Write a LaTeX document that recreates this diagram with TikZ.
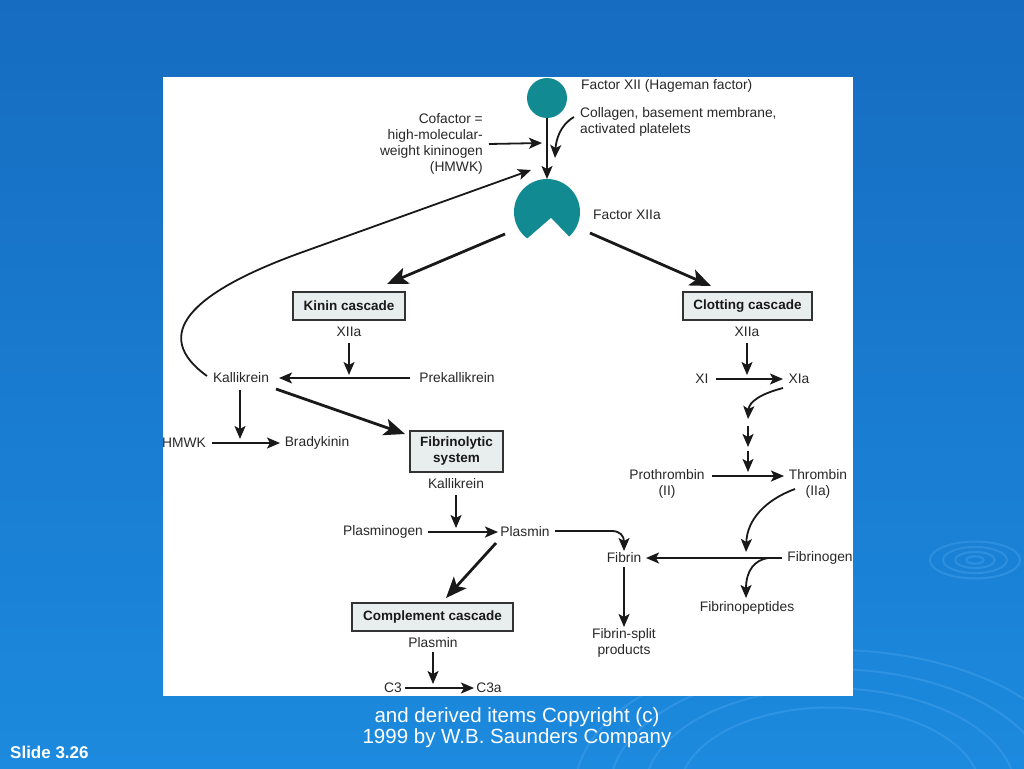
\documentclass[tikz,border=0pt]{standalone}
\usepackage{fontspec}
\setmainfont{Liberation Sans}
\usetikzlibrary{arrows.meta}
\definecolor{tealc}{RGB}{18,138,146}
\definecolor{boxfill}{RGB}{232,238,238}
\definecolor{txt}{RGB}{40,40,40}
\definecolor{bgtop}{RGB}{22,108,192}
\definecolor{bgbot}{RGB}{28,138,222}
\definecolor{ripple}{RGB}{90,175,240}
\tikzset{
 lbl/.style={font=\fontsize{13.8}{15.8}\selectfont, inner sep=1pt, text=txt},
 boxn/.style={draw=black!80, line width=1.6pt, fill=boxfill, text=black!90,
   font=\bfseries\fontsize{13.5}{16}\selectfont, inner sep=0pt, align=center},
 arr/.style={-{Stealth[length=13pt,width=11pt,inset=3pt]}, line width=1.8pt, draw=black!90},
 bigarr/.style={-{Stealth[length=21pt,width=17pt,inset=5pt]}, line width=2.8pt, draw=black!90},
 foot/.style={text=white, font=\fontsize{20.5}{22}\selectfont, inner sep=0pt},
}
\begin{document}
\begin{tikzpicture}[x=1pt,y=-1pt]
\useasboundingbox (0,0) rectangle (1024,768);
% background
\shade[top color=bgtop, bottom color=bgbot] (0,0) rectangle (1024,768);
% ripples
\begin{scope}[draw=ripple, opacity=0.3, line width=2pt]
  \foreach \r in {8,18,29,41} {\draw (975,560) ellipse ({\r*1.1} and {\r*0.45});}
  \foreach \r in {150,185,220,255} {\draw (830,790) ellipse ({\r} and {\r*0.55});}
\end{scope}
% footer
\node[foot] (ft1) at (517,717) {and derived items Copyright (c)};
\node[foot] (ft2) at (517,738) {1999 by W.B. Saunders Company};
\node[text=white, font=\bfseries\fontsize{17}{19}\selectfont, anchor=west, inner sep=0pt] (slide) at (10,752) {Slide 3.26};
% white panel
\fill[white] (163,77) rectangle (853,696);

% Factor XII
\node[circle, fill=tealc, minimum size=40pt, inner sep=0pt] (f12) at (547,98) {};
\node[lbl, anchor=west] (f12t) at (580,86) {Factor XII (Hageman factor)};
\node[lbl, anchor=north west, align=left] (coll) at (579,106) {Collagen, basement membrane,\\activated platelets};
\node[lbl, anchor=east, align=right] (cof) at (484,144) {Cofactor =\\high-molecular-\\weight kininogen\\(HMWK)};

% Factor XIIa (notched)
\node[circle, minimum size=66pt, inner sep=0pt] (f12a) at (547,212) {};
\fill[tealc] (f12a.center) circle (33);
\fill[white] (551,218) -- (513,251) -- (583,251) -- cycle;
\node[lbl, anchor=west] (f12at) at (592,215) {Factor XIIa};

\coordinate (f12aTop) at (547,179);
\coordinate (cofEnd) at (542,143);
\coordinate (collEnd) at (555,158);
\coordinate (kalBack) at (531,170);
\draw[arr] (f12.south) -- (f12aTop);
\draw[arr] ([xshift=5pt]cof.east) -- (cofEnd);
\draw[arr] (574,117) .. controls (560,125) and (556,140) .. (collEnd);

% cascade boxes
\node[boxn, minimum width=112pt, minimum height=28pt] (kin) at (349,306) {Kinin cascade};
\node[boxn, minimum width=129pt, minimum height=28pt] (clot) at (747.5,306) {Clotting cascade};
\coordinate (kinTip) at (387,284);
\coordinate (clotTip) at (711,286);
\draw[bigarr] (505,234) -- (kinTip);
\draw[bigarr] (590,233) -- (clotTip);

% kinin side
\node[lbl] (x12k) at (349,332) {XIIa};
\node[lbl] (prek) at (457,378) {Prekallikrein};
\node[lbl] (kal) at (241,378) {Kallikrein};
\coordinate (kalLine) at (349,375);
\draw[arr] (349,343) -- (kalLine);
\draw[arr] (410,378) -- (279,378);
\draw[arr] (207,376) .. controls (150,335) and (190,293) .. (300,253) -- (kalBack);
\node[lbl] (hmwk) at (184,443) {HMWK};
\node[lbl] (brady) at (317,443) {Bradykinin};
\coordinate (bradyLine) at (240,439);
\draw[arr] (240,390) -- (bradyLine);
\draw[arr] (212,443) -- (280,443);
\node[boxn, minimum width=93pt, minimum height=41pt] (fib) at (456.5,451.5) {Fibrinolytic\\system};
\coordinate (fibTip) at (405,434);
\draw[bigarr] (276,389) -- (fibTip);

% fibrinolytic
\node[lbl] (kal2) at (456,484) {Kallikrein};
\node[lbl] (plg) at (383,532) {Plasminogen};
\node[lbl] (pls) at (525,532) {Plasmin};
\coordinate (plsLine) at (456,528);
\draw[arr] (456,495) -- (plsLine);
\draw[arr] (428,532) -- (498,532);
\node[boxn, minimum width=161pt, minimum height=28pt] (comp) at (432.5,617) {Complement cascade};
\coordinate (compTip) at (446,598);
\draw[bigarr] (496,543) -- (compTip);
\node[lbl] (pls2) at (433,643) {Plasmin};
\node[lbl] (c3) at (393,688) {C3};
\node[lbl] (c3a) at (489,688) {C3a};
\coordinate (c3Line) at (433,684);
\draw[arr] (433,652) -- (c3Line);
\draw[arr] (405,688) -- (474,688);

% clotting side
\node[lbl] (x12c) at (747,332) {XIIa};
\node[lbl] (xi) at (702,379) {XI};
\node[lbl] (xia) at (799,379) {XIa};
\coordinate (xiLine) at (747,375);
\draw[arr] (747,343) -- (xiLine);
\draw[arr] (716,379) -- (783,379);
\coordinate (s1) at (748,419);
\coordinate (s2) at (748,447);
\coordinate (s3) at (748,472);
\draw[arr] (783,388) .. controls (760,394) and (749,402) .. (s1);
\draw[arr] (748,426) -- (s2);
\draw[arr] (748,451) -- (s3);
\node[lbl, align=center] (proth) at (667,484) {Prothrombin\\(II)};
\node[lbl, align=center] (thr) at (818,484) {Thrombin\\(IIa)};
\draw[arr] (712,476) -- (784,476);
\node[lbl] (fbg) at (820,558) {Fibrinogen};
\node[lbl] (fbn) at (624,558) {Fibrin};
\coordinate (fbgLine) at (746,552);
\draw[arr] (795,489) .. controls (765,500) and (747,520) .. (fbgLine);
\draw[arr] (782,558) -- (646,558);
\coordinate (fbnTop) at (624,551);
\draw[arr] (555,531) -- (612,531) .. controls (620,531) and (624,536) .. (fbnTop);
\node[lbl] (fpep) at (747,608) {Fibrinopeptides};
\coordinate (fpepTop) at (746,598);
\draw[arr] (768,558) .. controls (755,560) and (746,570) .. (fpepTop);
\node[lbl, align=center] (fsp) at (624,643) {Fibrin-split\\products};
\coordinate (fspTop) at (624,627);
\draw[arr] (624,567) -- (fspTop);
\end{tikzpicture}
\end{document}
